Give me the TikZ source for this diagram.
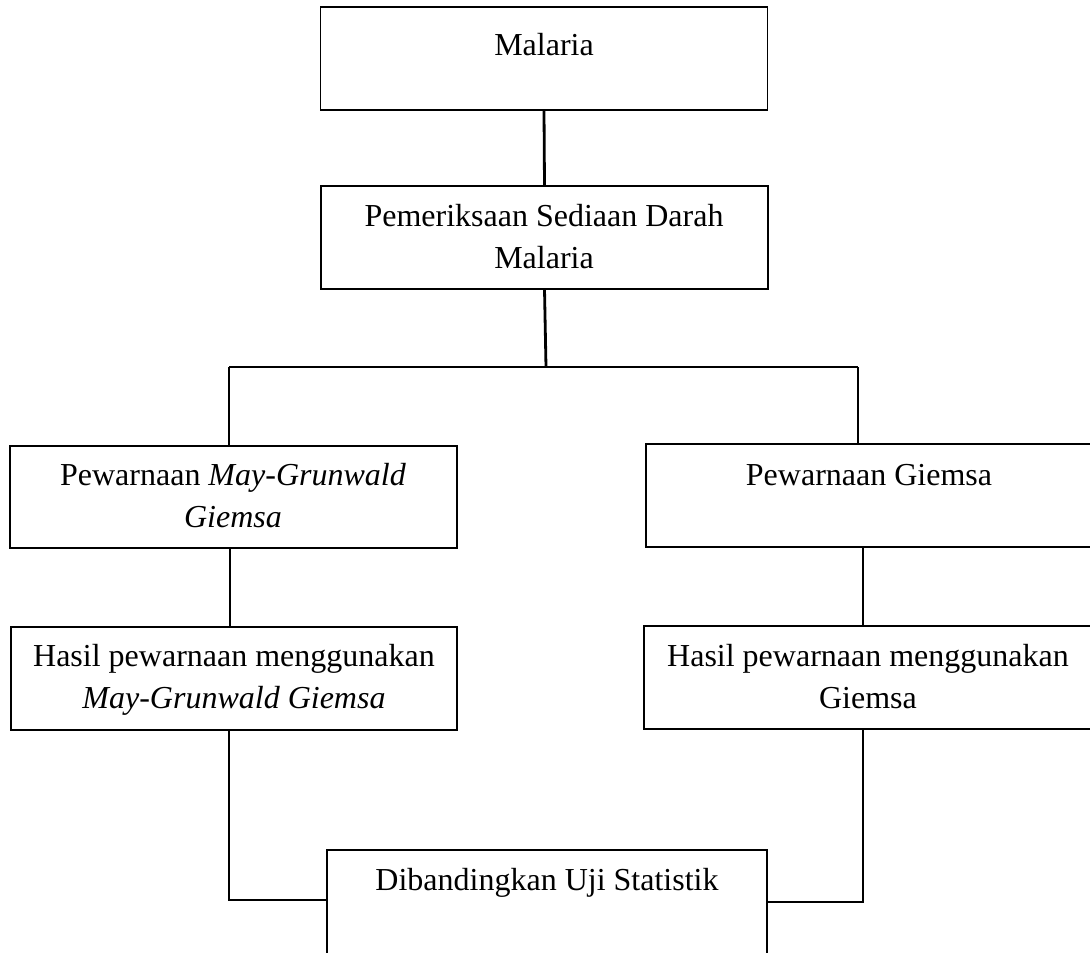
\documentclass[tikz,border=0pt]{standalone}
\usepackage{fontspec}
\setmainfont{Liberation Serif}
\begin{document}
\begin{tikzpicture}[x=1pt,y=-1pt,
  box/.style={draw, line width=1.4pt, inner sep=0pt, outer sep=0pt, rectangle},
  txt/.style={inner sep=0pt, outer sep=0pt, align=center, anchor=base,
    font=\fontsize{32}{42}\selectfont},
  conn/.style={line width=2.8pt}]
\useasboundingbox (0,0) rectangle (1090,953);
% boxes
\node[box, minimum width=447pt, minimum height=103pt] (malaria) at (544,58.5) {};
\node[box, minimum width=447pt, minimum height=103pt] (periksa) at (544.5,237.5) {};
\node[box, minimum width=447pt, minimum height=102pt] (mgg) at (233.5,497) {};
\node[box, minimum width=446pt, minimum height=103pt] (giemsa) at (869,495.5) {};
\node[box, minimum width=446pt, minimum height=103pt] (hmgg) at (234,678.5) {};
\node[box, minimum width=448pt, minimum height=103pt] (hgiemsa) at (868,677.5) {};
\node[box, minimum width=440pt, minimum height=160pt] (uji) at (547,930) {};
% texts (base anchor = baseline of last line)
\node[txt] (tmalaria) at (544,55) {Malaria};
\node[txt] (tperiksa) at (544,268) {Pemeriksaan Sediaan Darah\\Malaria};
\node[txt] (tmgg) at (233,527) {Pewarnaan \textit{May-Grunwald}\\\textit{Giemsa}};
\node[txt] (tgiemsa) at (869,485) {Pewarnaan Giemsa};
\node[txt] (thmgg) at (234,708) {Hasil pewarnaan menggunakan\\\textit{May-Grunwald Giemsa}};
\node[txt] (thgiemsa) at (868,708) {Hasil pewarnaan menggunakan\\Giemsa};
\node[txt] (tuji) at (547,890) {Dibandingkan Uji Statistik};
% connectors
\coordinate (split) at (546,367);
\coordinate (sl) at (229,367);
\coordinate (sr) at (858,367);
\coordinate (bl) at (229,900);
\coordinate (br) at (863,902);
\draw[conn] (malaria.south) -- (periksa.north);
\draw[conn] (periksa.south) -- (split);
\draw[conn] (sl) -- (sr);
\draw[conn] (sl) -- (sl |- mgg.north);
\draw[conn] (sr) -- (sr |- giemsa.north);
\draw[conn] (mgg.south -| 230,0) -- (hmgg.north -| 230,0);
\draw[conn] (giemsa.south -| 863,0) -- (hgiemsa.north -| 863,0);
\draw[conn] (hmgg.south -| bl) -- (bl) -- (bl -| uji.west);
\draw[conn] (hgiemsa.south -| br) -- (br) -- (br -| uji.east);
\end{tikzpicture}
\end{document}
